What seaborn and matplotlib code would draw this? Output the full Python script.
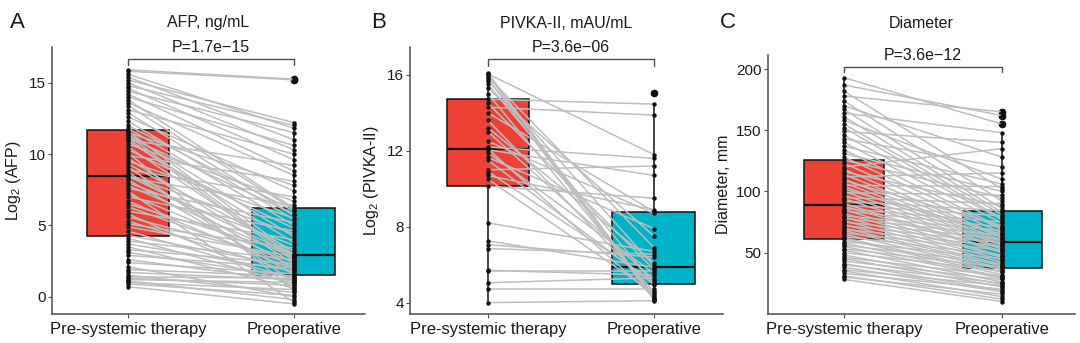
import numpy as np
import pandas as pd
import matplotlib
matplotlib.use("Agg")
import matplotlib.pyplot as plt
import seaborn as sns

# ---- data -------------------------------------------------------------
groups = ["Pre-systemic therapy", "Preoperative"]

afp_pre = [0.7, 0.9, 1.0, 1.1, 1.2, 1.3, 1.4, 1.5, 1.7, 1.9, 2.1, 2.4, 2.6, 2.9, 3.1, 3.3, 3.5, 3.7, 3.9, 4.1,
           4.3, 4.6, 4.9, 5.1, 5.3, 5.6, 5.8, 6.0, 6.3, 6.5, 6.7, 7.0, 7.2, 7.4, 7.6, 7.8, 8.0, 8.2, 8.35, 8.45,
           8.5, 8.7, 8.9, 9.1, 9.3, 9.5, 9.7, 9.9, 10.1, 10.3, 10.5, 10.7, 10.9, 11.0, 11.1, 11.2, 11.3, 11.4, 11.5, 11.6,
           11.8, 12.0, 12.3, 12.6, 12.9, 13.1, 13.4, 13.6, 13.8, 14.0, 14.2, 14.4, 14.6, 14.8, 15.0, 15.2, 15.4, 15.6, 15.8, 15.9]
afp_post = [-0.5, 0.1, 0.5, -0.2, 1.0, 0.8, 1.3, 0.3, 1.2, 1.45, 0.0, 1.6, 1.1, 2.0, 1.4, 2.3, 0.6, 1.8, 2.6, 0.9,
            2.1, 1.25, 2.8, 3.4, 1.7, 2.5, 0.7, 4.0, 2.2, 3.0, 1.9, 4.6, 2.4, -0.4, 5.2, 2.75, 3.6, 1.55, 6.4, 2.9,
            4.4, 2.0, 7.0, 1.0, 3.2, 5.5, 2.3, 8.1, 0.4, 4.8, 2.85, 6.7, 3.8, 9.2, 2.5, 5.8, 2.7, 4.2, 7.8, 2.95,
            5.0, 6.0, 5.4, 7.4, 5.7, 10.0, 6.1, 8.5, 6.2, 10.6, 8.8, 11.5, 9.6, 12.0, 10.3, 12.2, 11.0, 11.8, 15.2, 15.25]

pivka_pre = [4.0, 4.7, 5.05, 5.65, 5.7, 6.85, 7.05, 7.25, 8.2, 10.14, 10.5, 10.7, 10.9, 11.0, 11.5, 11.65, 11.9,
             12.05, 12.09, 12.2, 12.5, 13.0, 13.2, 13.6, 14.0, 14.3, 14.5, 14.72, 15.0, 15.3, 15.5, 15.7, 15.8,
             15.9, 16.0, 16.05, 16.1, np.nan]
pivka_post = [4.1, 4.7, 5.3, 5.65, 5.45, 6.55, 6.4, 5.85, 6.7, 9.5, 4.5, 8.9, 5.1, 11.2, 4.95, 7.9, 5.55,
              10.7, 4.3, 11.6, 8.7, 5.2, 6.1, 4.6, 8.8, 13.88, 5.75, 14.46, 4.4, 7.5, 4.98, 5.93, 4.15,
              6.9, 4.2, 11.8, 4.25, 15.07]

diam_pre = [28, 30, 31, 33, 35, 36, 38, 40, 41, 43, 45, 46, 48, 50, 52, 53, 55, 56, 58, 59, 61,
            62, 63, 65, 66, 68, 69, 70, 72, 73, 75, 76, 78, 79, 80, 82, 84, 85, 86, 88, 88.8,
            90, 92, 94, 95, 97, 99, 100, 102, 104, 105, 107, 109, 110, 112, 114, 116, 118, 120, 123, 125.7,
            128, 131, 134, 137, 140, 143, 146, 149, 152, 155, 158, 161, 164, 167, 170, 174, 178, 182, 187, 193]
diam_post = [10, 16, 12, 20, 14, 23, 18, 25, 19, 28, 22, 31, 24, 35, 26, 38, 29, 41, 30, 45, 32,
             34, 48, 36, 52, 37.2, 55, 39, 58, 40, 61, 42, 64, 44, 68, 46, 71, 47, 75, 50, 80,
             51, 84.2, 53, 90, 54, 97, 56, 65, 57, 104, 58.5, 72, 60, 115, 62, 88, 63, 135, 66, 95,
             69, 100, 70, 106, 74, 120, 77, 140, 78, 81, 110, 83, 148, 86, 128, 92, 165, 102, 162, 155]

panels = [
    dict(letter="A", title="AFP, ng/mL", pval="P=1.7e\u221215", ylabel="Log$_2$ (AFP)",
         pre=afp_pre, post=afp_post, yticks=[0, 5, 10, 15], ylim=(-1.21, 17.5), br=(16.66, 16.24)),
    dict(letter="B", title="PIVKA-II, mAU/mL", pval="P=3.6e\u221206", ylabel="Log$_2$ (PIVKA-II)",
         pre=pivka_pre, post=pivka_post, yticks=[4, 8, 12, 16], ylim=(3.4, 17.47), br=(16.84, 16.47)),
    dict(letter="C", title="Diameter", pval="P=3.6e\u221212", ylabel="Diameter, mm",
         pre=diam_pre, post=diam_post, yticks=[50, 100, 150, 200], ylim=(-0.2, 211.5), br=(201.9, 197.5)),
]

# ---- style ------------------------------------------------------------
sns.set_style("white")
plt.rcParams["font.family"] = ["Liberation Sans", "DejaVu Sans"]
plt.rcParams["mathtext.fontset"] = "custom"
plt.rcParams["mathtext.rm"] = "Liberation Sans"
plt.rcParams["mathtext.it"] = "Liberation Sans:italic"

palette = {"Pre-systemic therapy": "#EC4134", "Preoperative": "#00B3C9"}
axis_col = "#4D4D4D"
text_col = "#1A1A1A"

W, H = 1080, 343
fig = plt.figure(figsize=(W / 100, H / 100), dpi=100)

# axes boxes in pixels: left, right, top, bottom
boxes = [(52, 365, 47, 314), (410, 723, 47, 314), (768, 1075, 55, 314)]
xlims = [(-0.458, 1.428), (-0.47, 1.416), (-0.481, 1.462)]
letter_x = [10, 371, 720]

for p, (l, r, t, b), xl, lx in zip(panels, boxes, xlims, letter_x):
    ax = fig.add_axes([l / W, 1 - b / H, (r - l) / W, (b - t) / H])
    n = len(p["pre"])
    df = pd.DataFrame({
        "pid": np.concatenate([np.arange(n), np.arange(n)]),
        "time": [groups[0]] * n + [groups[1]] * n,
        "pos": [0] * n + [1] * n,
        "value": np.concatenate([p["pre"], p["post"]]),
    })
    df_valid = df.dropna()

    sns.boxplot(data=df_valid, x="time", y="value", hue="time", order=groups, hue_order=groups,
                palette=palette, width=0.5, showcaps=False, linecolor="#111111", linewidth=1.1,
                dodge=False, legend=False, saturation=1,
                medianprops=dict(color="#111111", linewidth=1.6),
                whiskerprops=dict(color="#111111", linewidth=1.1),
                flierprops=dict(marker="o", markerfacecolor="#111111", markeredgecolor="#111111",
                                markersize=4.5),
                ax=ax)

    # paired trajectories
    pairs = df.pivot(index="pid", columns="pos", values="value").dropna()
    long_pairs = pairs.reset_index().melt(id_vars="pid", var_name="pos", value_name="value")
    long_pairs["pos"] = long_pairs["pos"].astype(float)
    sns.lineplot(data=long_pairs, x="pos", y="value", units="pid", estimator=None,
                 color="#BEBEBE", linewidth=1.1, ax=ax, zorder=3, legend=False)

    sns.stripplot(data=df_valid, x="time", y="value", order=groups, jitter=False,
                  color="#111111", size=3.2, ax=ax, zorder=4, native_scale=False)

    ax.set_xlim(*xl)
    ax.set_ylim(*p["ylim"])
    ax.set_yticks(p["yticks"])
    ax.set_xticks([0, 1])
    ax.set_xticklabels(groups, fontsize=12, color=text_col)
    ax.set_xlabel("")
    ax.set_ylabel(p["ylabel"], fontsize=11.5, color=text_col, labelpad=4)
    ax.tick_params(axis="y", labelsize=11, colors=text_col, length=3, width=0.8,
                   color=axis_col, pad=1.5, left=True)
    ax.tick_params(axis="x", length=3, width=0.8, color=axis_col, pad=3, bottom=True)
    for s in ("top", "right"):
        ax.spines[s].set_visible(False)
    for s in ("left", "bottom"):
        ax.spines[s].set_color(axis_col)
        ax.spines[s].set_linewidth(1.1)

    # significance bracket
    y1, y0 = p["br"]
    ax.plot([0, 0, 1, 1], [y0, y1, y1, y0], color=axis_col, linewidth=1.0, clip_on=False, zorder=5)
    ax.annotate(p["pval"], xy=(0.5, y1), xytext=(0, 3), textcoords="offset points",
                ha="center", va="bottom", fontsize=11.5, color=text_col, annotation_clip=False)

    fig.text((l + r) / 2 / W, 1 - 23 / H, p["title"], ha="center", va="center",
             fontsize=11.5, color=text_col)
    fig.text(lx / W, 1 - 22 / H, p["letter"], ha="left", va="center", fontsize=16, color=text_col)

fig.savefig("out.png", dpi=100, facecolor="white")
